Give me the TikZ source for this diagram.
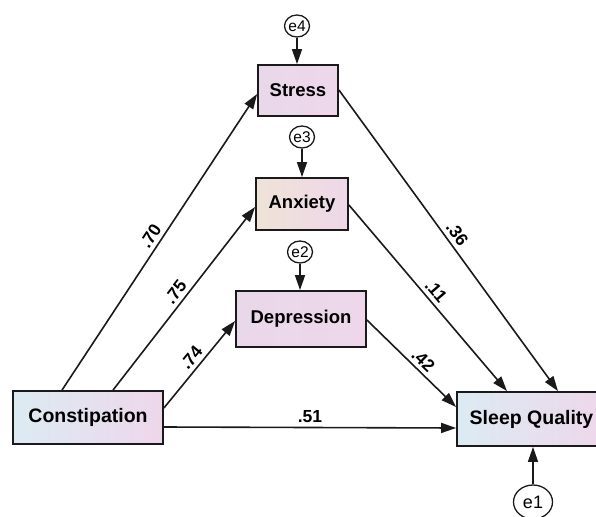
\documentclass[tikz,border=0pt]{standalone}
\usepackage{fontspec}
\setmainfont{Liberation Sans}
\usetikzlibrary{arrows.meta,shapes.geometric}
\definecolor{bluel}{HTML}{DCEBF3}
\definecolor{pinkr}{HTML}{EED7EA}
\definecolor{pinkl}{HTML}{E9D8EA}
\definecolor{beigel}{HTML}{EFE3D6}
\definecolor{edgec}{HTML}{1A1A1A}
\begin{document}
\begin{tikzpicture}[x=1pt,y=-1pt,
  box/.style={draw=edgec,line width=1.8pt,inner sep=0pt,font=\bfseries\fontsize{18.5}{20}\selectfont,text=black},
  errc/.style={draw=edgec,ellipse,line width=1.3pt,fill=white,inner sep=0pt,font=\fontsize{15.5}{16}\selectfont},
  pth/.style={draw=edgec,line width=1.6pt,-{Triangle[length=15pt,width=10pt]}},
  coef/.style={font=\bfseries\fontsize{17.5}{18}\selectfont,sloped,above=0.5pt,pos=0.5,text=black}]
\useasboundingbox (0,0) rectangle (596,516);
\fill[white] (0,0) rectangle (596,516);
% boxes
\node[box,minimum width=80pt,minimum height=51pt,left color=pinkl,right color=pinkr] (stress) at (298,90.5) {Stress};
\node[box,minimum width=92pt,minimum height=52pt,left color=beigel,right color=pinkr] (anx) at (302,204) {Anxiety};
\node[box,minimum width=130pt,minimum height=56pt,left color=pinkl,right color=pinkr] (dep) at (301,319) {Depression};
\node[box,minimum width=150pt,minimum height=53pt,left color=bluel,right color=pinkr,font=\bfseries\fontsize{19.5}{21}\selectfont] (const) at (88,417.5) {Constipation};
\node[box,minimum width=149pt,minimum height=54pt,left color=bluel,right color=pinkr,font=\bfseries\fontsize{19.5}{21}\selectfont] (sq) at (531.5,419) {Sleep Quality};
% error terms
\node[errc,minimum width=25pt,minimum height=22pt] (e4) at (297,26) {e4};
\node[errc,minimum width=25pt,minimum height=22pt] (e3) at (302,137) {e3};
\node[errc,minimum width=25pt,minimum height=22pt] (e2) at (300,252) {e2};
\node[errc,minimum width=39pt,minimum height=34pt,font=\fontsize{18}{19}\selectfont] (e1) at (533,502) {e1};
% error arrows
\draw[pth] (e4.south) -- (e4.south |- stress.north);
\draw[pth] (e3.south) -- (e3.south |- anx.north);
\draw[pth] (e2.south) -- (e2.south |- dep.north);
\draw[pth] (e1.north) -- (e1.north |- sq.south);
% structural paths
\draw[pth] ([xshift=-26pt]const.north) -- node[coef] {.70} ([yshift=-3.5pt]stress.west);
\draw[pth] ([xshift=25pt]const.north) -- node[coef] {.75} ([yshift=-3pt]anx.west);
\draw[pth] ([yshift=9.5pt]const.east) -- node[coef] {.74} ([yshift=-2pt]dep.west);
\draw[pth] ([yshift=-9.5pt]const.east) -- node[coef] {.51} ([yshift=-9pt]sq.west);
\draw[pth] ([yshift=0.5pt]stress.east) -- node[coef] {.36} ([xshift=26.5pt]sq.north);
\draw[pth] ([yshift=-1pt]anx.east) -- node[coef] {.11} ([xshift=-24.5pt]sq.north);
\draw[pth] ([yshift=-1pt]dep.east) -- node[coef,pos=0.55] {.42} ([yshift=12pt]sq.west);
\end{tikzpicture}
\end{document}
